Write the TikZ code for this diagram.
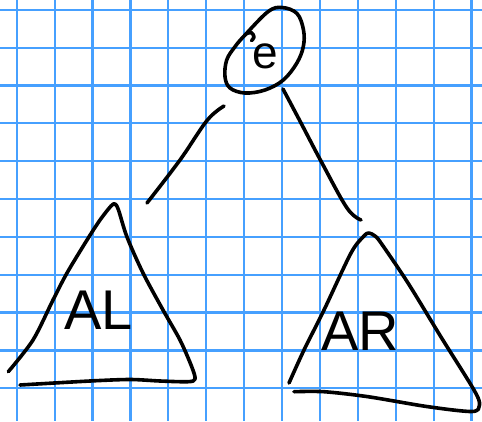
\documentclass[tikz,border=0pt]{standalone}
\usepackage{fontspec}
\setmainfont{Liberation Sans}
\definecolor{gridblue}{RGB}{70,160,255}
\begin{document}
\begin{tikzpicture}[x=1pt,y=-1pt,
  gridline/.style={draw=gridblue, line width=2.2pt},
  pen/.style={draw=black, line width=3.6pt, line cap=round, line join=round},
  treetext/.style={font=\fontsize{56}{56}\selectfont, inner sep=0pt, anchor=base west},
  roottext/.style={font=\fontsize{46}{46}\selectfont, inner sep=0pt}]
\fill[white] (0,0) rectangle (482,421);
\useasboundingbox (0,0) rectangle (482,421);
% grid paper
\foreach \gx in {16.7,54.6,92.5,130.4,168.3,206.2,244.1,282.0,319.9,357.8,395.7,433.6,471.5}
  \draw[gridline] (\gx,0) -- (\gx,421);
\foreach \gy in {9.7,47.6,85.4,123.3,161.1,199.0,236.8,274.7,312.5,350.4,388.2}
  \draw[gridline] (0,\gy) -- (482,\gy);
% root
\node[roottext] (root) at (265,56) {e};
\draw[pen] plot[smooth cycle, tension=0.6] coordinates {
  (268,11.7) (282,7.5) (297,13.5) (303.5,30) (303.3,46.7) (296.7,63.3)
  (283.3,80) (265,90) (245,93) (230,88) (225,76.7) (226.7,60) (235,46.7) (245,35)};
\draw[pen] plot[smooth, tension=0.7] coordinates {(246,34) (251,32.5) (254,37) (251.5,40.5)};
% subtrees
\node[treetext] (al) at (64,329) {AL};
\node[treetext] (ar) at (321,350) {AR};
\draw[pen] plot[smooth, tension=0.5] coordinates {
  (8.3,371.7) (33,340) (53,300) (67,273) (87,240) (100,220) (111,206) (115,204)
  (118.5,210) (127,237) (143,273) (163,310) (180,340) (191.7,366.7) (195,379)
  (188,381.7) (160,381) (130,379.5) (90,381) (20,385)};
\draw[pen] plot[smooth, tension=0.5] coordinates {
  (289,383) (304,350) (324,310) (351,253) (364,236) (369,233) (375,236)
  (381,243) (408,283) (441,337) (474,390) (479.5,405) (472,411.5) (428,406.7)
  (368,396.7) (324,391.7) (294,391.7)};
% connectors
\coordinate (rootL) at (224,106);
\coordinate (alTop) at (147,203);
\coordinate (rootR) at (283,89);
\coordinate (arTop) at (361,220);
\draw[pen] plot[smooth, tension=0.6] coordinates {(rootL) (207,120.5) (180,160) (alTop)};
\draw[pen] plot[smooth, tension=0.6] coordinates {(rootR) (301,123) (322,163) (347,208) (arTop)};
\end{tikzpicture}
\end{document}
